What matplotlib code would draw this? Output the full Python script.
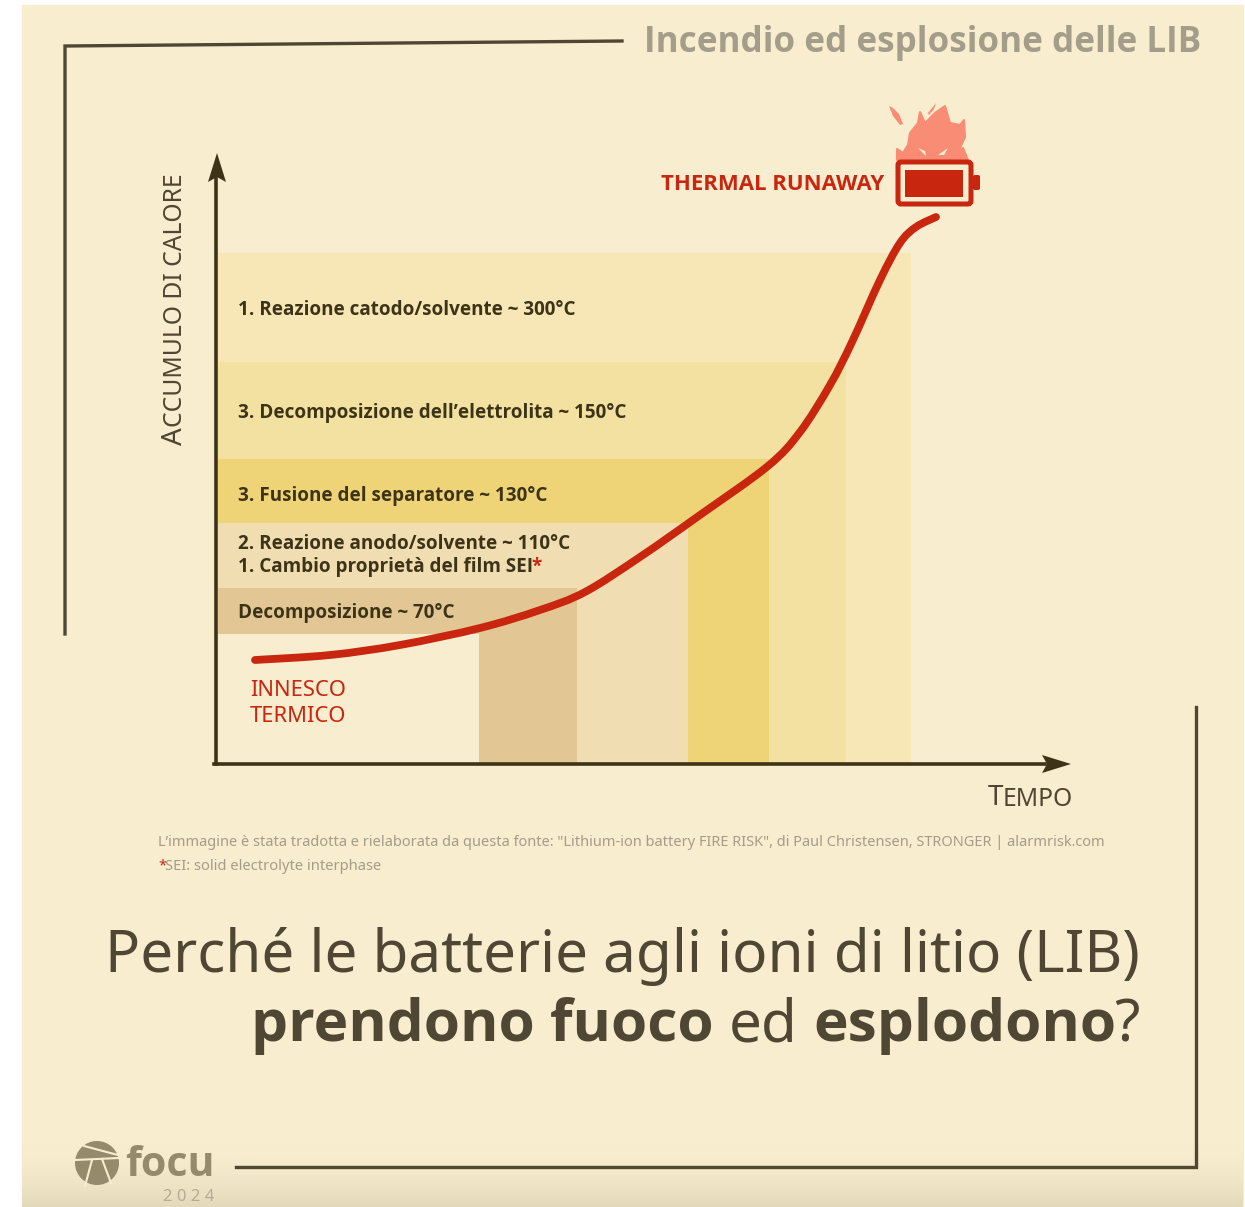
import numpy as np
import matplotlib
matplotlib.use('Agg')
import matplotlib.pyplot as plt
from matplotlib.patches import Rectangle, FancyBboxPatch, Polygon, Circle, PathPatch
from matplotlib.path import Path

plt.rcParams['font.family'] = ['Noto Sans', 'DejaVu Sans']
BOLD = ['Open Sans', 'DejaVu Sans']

# temperature bands, top to bottom
band_labels = ['1. Reazione catodo/solvente ~ 300°C', '3. Decomposizione dell’elettrolita ~ 150°C',
               '3. Fusione del separatore ~ 130°C', '', 'Decomposizione ~ 70°C']
band_top = [253, 362, 459, 523, 588]
band_bottom = [362, 459, 523, 588, 634]
band_left = [846, 769, 688, 577, 479]
band_right = [911, 846, 769, 688, 577]
band_colors = ['#f7e7b6', '#f3e1a2', '#eed477', '#f0ddb2', '#e2c795']
label_y = [310, 413, 496, None, 613]

curve_x = [255, 330, 400, 480, 540, 585, 640, 700, 768, 800, 830, 852, 880, 900, 916, 936]
curve_y = [660, 655, 645, 628, 610, 592, 557, 515, 466, 432, 385, 342, 280, 243, 227, 217]

flame_x = [897, 903, 908, 910, 918, 920, 925, 935, 945, 950, 960, 964, 965, 960, 955, 963, 968, 897]
flame_y = [149, 153, 145, 133, 123, 112, 123, 113, 106, 123, 125, 120, 137, 148, 155, 148, 160, 160]
leaf1_x = [889, 893, 899, 903, 900, 893]
leaf1_y = [106, 108, 114, 124, 125, 116]
leaf2_x = [928, 936, 934, 929]
leaf2_y = [113, 103, 109, 115]
hole1_x = [918, 925, 926]
hole1_y = [148, 151, 156]
hole2_x = [938, 948, 944]
hole2_y = [155, 148, 155]

BG = '#f8edcf'
DARK = '#3d3418'
LINE = '#4f4733'
RED = '#c8260f'
GREY = '#a39d8a'

fig = plt.figure(figsize=(12.45, 12.07), dpi=100)
ax = fig.add_axes([0, 0, 1, 1])

ax.add_patch(Rectangle((22, 5), 1221, 1202, color=BG, zorder=0))
# darker strip at the bottom edge
shade = np.linspace(0, 1, 70) ** 2
rgba = np.zeros((70, 1, 4))
rgba[..., :3] = matplotlib.colors.to_rgb('#cfc5a5')
rgba[:, 0, 3] = shade * 0.5
ax.imshow(rgba, extent=(22, 1243, 1207, 1137), aspect='auto', zorder=0.5)
ax.set_xlim(0, 1245)
ax.set_ylim(1207, 0)
ax.axis('off')

# frame lines
ax.plot([65, 65, 622], [634, 46, 41], color=LINE, lw=2.4, solid_joinstyle='miter')
ax.plot([1196, 1196, 236], [707, 1167, 1167], color=LINE, lw=2.4, solid_joinstyle='miter')

# bands: horizontal part, then the vertical drop
for top, bot, left, right, col in zip(band_top, band_bottom, band_left, band_right, band_colors):
    ax.add_patch(Rectangle((218, top), right - 218, bot - top, color=col, lw=0, zorder=1))
    ax.add_patch(Rectangle((left, top), right - left, 763 - top, color=col, lw=0, zorder=1))
lab_kw = dict(fontsize=13.6, family=BOLD, fontweight='bold', color=DARK, va='center', zorder=3)
for lab, y in zip(band_labels, label_y):
    if lab:
        ax.text(238, y, lab, **lab_kw)
ax.text(238, 544, '2. Reazione anodo/solvente ~ 110°C', **lab_kw)
ax.text(238, 567, '1. Cambio proprietà del film SEI', **lab_kw)
ax.text(531, 567, '*', fontsize=13.6, family=BOLD, fontweight='bold', color=RED, va='center', zorder=3)

# axes arrows
ax.plot([216, 216], [764, 175], color=DARK, lw=2.6, zorder=4)
ax.plot([214, 1045], [764, 764], color=DARK, lw=2.6, zorder=4)
ax.add_patch(Polygon([[208, 182], [217, 153], [226, 182], [217, 177]], color=DARK, lw=0, zorder=4))
ax.add_patch(Polygon([[1042, 755], [1071, 764], [1042, 773], [1047, 764]], color=DARK, lw=0, zorder=4))

# red curve, smoothed with catmull-rom segments
px = np.array(curve_x, float)
py = np.array(curve_y, float)
verts = [(px[0], py[0])]
codes = [Path.MOVETO]
for i in range(len(px) - 1):
    a, b = max(i - 1, 0), min(i + 2, len(px) - 1)
    verts += [(px[i] + (px[i + 1] - px[a]) / 6, py[i] + (py[i + 1] - py[a]) / 6),
              (px[i + 1] - (px[b] - px[i]) / 6, py[i + 1] - (py[b] - py[i]) / 6),
              (px[i + 1], py[i + 1])]
    codes += [Path.CURVE4] * 3
ax.add_patch(PathPatch(Path(verts, codes), fill=False, ec=RED, lw=5.6, capstyle='round', zorder=5))

# flame and battery icon
FLAME = '#f98c74'
ax.add_patch(Polygon(np.c_[flame_x, flame_y], fc=FLAME, ec=FLAME, lw=1.5, joinstyle='round', zorder=5))
ax.add_patch(Polygon(np.c_[leaf1_x, leaf1_y], color=FLAME, lw=0, zorder=5))
ax.add_patch(Polygon(np.c_[leaf2_x, leaf2_y], color=FLAME, lw=0, zorder=5))
ax.add_patch(Polygon(np.c_[hole1_x, hole1_y], color=BG, lw=0, zorder=6))
ax.add_patch(Polygon(np.c_[hole2_x, hole2_y], color=BG, lw=0, zorder=6))
ax.add_patch(FancyBboxPatch((898, 162), 73, 42, boxstyle='round,pad=0,rounding_size=3',
                            fc=BG, ec=RED, lw=3.6, zorder=6))
ax.add_patch(Rectangle((905, 170), 58, 27, color=RED, lw=0, zorder=7))
ax.add_patch(FancyBboxPatch((973, 175), 7, 15, boxstyle='round,pad=0,rounding_size=2',
                            color=RED, lw=0, zorder=6))

ax.text(884, 184, 'THERMAL RUNAWAY', fontsize=15.9, family=BOLD, fontweight='bold', color=RED, ha='right', va='center')
ax.text(250, 691, 'INNESCO', fontsize=15.8, color=RED, va='center')
ax.text(250, 716, 'TERMICO', fontsize=15.8, color=RED, va='center')

# small caps axis titles
ax.text(175, 445, 'A', fontsize=20, color=LINE, rotation=90, ha='center', va='bottom')
ax.text(176, 427, 'CCUMULO DI CALORE', fontsize=17.8, color=LINE, rotation=90, ha='center', va='bottom')
ax.text(988, 798, 'T', fontsize=20, color=LINE, va='center')
ax.text(1003, 799, 'EMPO', fontsize=17.8, color=LINE, va='center')

ax.text(1201, 43, 'Incendio ed esplosione delle LIB', fontsize=25.2, family=BOLD, fontweight='bold', color=GREY,
        ha='right', va='center')

ax.text(158, 843, 'L’immagine è stata tradotta e rielaborata da questa fonte: "Lithium-ion battery FIRE RISK", '
        'di Paul Christensen, STRONGER | alarmrisk.com', fontsize=10.5, color=GREY, va='center')
ax.text(158, 866, '*', fontsize=10.5, color=RED, va='center')
ax.text(165, 866, 'SEI: solid electrolyte interphase', fontsize=10.6, color=GREY, va='center')

# headline
TITLE = '#4f4733'
ax.text(1140, 956, 'Perché le batterie agli ioni di litio (LIB)', fontsize=42, color=TITLE, ha='right', va='center')
ax.text(251, 1026, 'prendono fuoco', fontsize=42.1, family=BOLD, fontweight='bold', color=TITLE, va='center')
ax.text(729, 1026, 'ed', fontsize=42, color=TITLE, va='center')
ax.text(813, 1026, 'esplodono', fontsize=42.1, family=BOLD, fontweight='bold', color=TITLE, va='center')
ax.text(1140, 1026, '?', fontsize=42, color=TITLE, ha='right', va='center')

# logo
LOGO = '#958a6a'
ax.add_patch(Circle((97, 1163), 22, color=LOGO, lw=0))
ax.plot([84, 118], [1146, 1155], color=BG, lw=1.5)
ax.plot([75, 119], [1160, 1158], color=BG, lw=1.5)
ax.plot([92, 85], [1160, 1186], color=BG, lw=1.5)
ax.plot([102, 111], [1159, 1183], color=BG, lw=1.5)
ax.text(125, 1165, 'focu', fontsize=29.5, family=BOLD, fontweight='bold', color=LOGO, va='center')
ax.text(163, 1197, '2 0 2 4', fontsize=12, fontweight='medium', color='#b5ad93', va='center')

fig.savefig('out.png', dpi=100, facecolor='white')
